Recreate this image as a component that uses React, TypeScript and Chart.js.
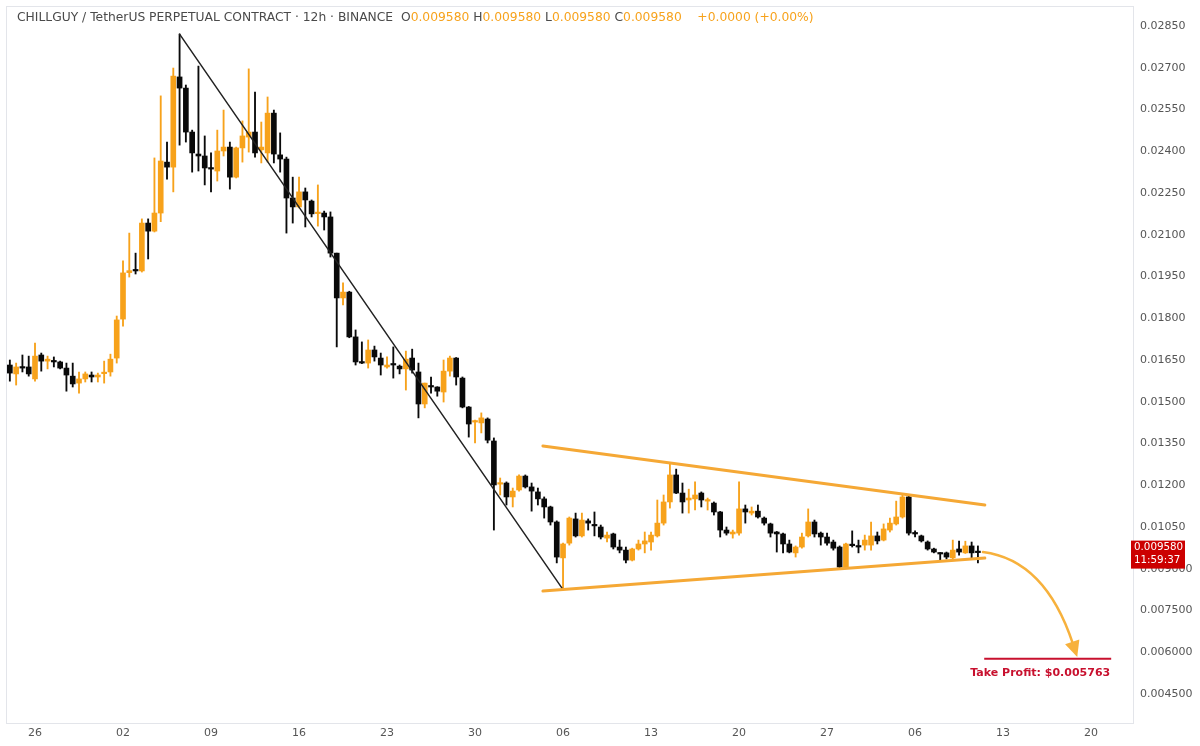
import { useEffect, useRef } from "react";
import { Chart, registerables } from "chart.js";

Chart.register(...registerables);

// 12h candles; index 0 is the candle at the "26" tick, 14 candles per week
const FIRST_CANDLE = -4;

const opens = [
  0.01632, 0.01600, 0.01625, 0.01625, 0.01582, 0.01668, 0.01646, 0.01648, 0.01643, 0.01621,
  0.01592, 0.01567, 0.01582, 0.01596, 0.01589, 0.01601, 0.01607, 0.01657, 0.01797, 0.01964,
  0.01973, 0.01970, 0.02142, 0.02113, 0.02178, 0.02361, 0.02343, 0.02667, 0.02627, 0.02469,
  0.02390, 0.02383, 0.02340, 0.02329, 0.02401, 0.02415, 0.02307, 0.02412, 0.02451, 0.02469,
  0.02405, 0.02394, 0.02537, 0.02387, 0.02372, 0.02232, 0.02200, 0.02254, 0.02221, 0.02176,
  0.02178, 0.02164, 0.02034, 0.01873, 0.01894, 0.01733, 0.01643, 0.01639, 0.01686, 0.01657,
  0.01625, 0.01636, 0.01628, 0.01618, 0.01657, 0.01607, 0.01492, 0.01554, 0.01553, 0.01535,
  0.01610, 0.01657, 0.01585, 0.01481, 0.01427, 0.01424, 0.01438, 0.01359, 0.01204, 0.01208,
  0.01158, 0.01183, 0.01233, 0.01194, 0.01176, 0.01151, 0.01122, 0.01068, 0.00939, 0.00992,
  0.01079, 0.01018, 0.01072, 0.01057, 0.01050, 0.01010, 0.01025, 0.00978, 0.00967, 0.00931,
  0.00971, 0.00989, 0.00996, 0.01018, 0.01064, 0.01140, 0.01237, 0.01172, 0.01147, 0.01151,
  0.01172, 0.01143, 0.01136, 0.01104, 0.01039, 0.01025, 0.01028, 0.01115, 0.01100, 0.01107,
  0.01082, 0.01061, 0.01032, 0.01025, 0.00989, 0.00957, 0.00978, 0.01018, 0.01068, 0.01028,
  0.01014, 0.00996, 0.00978, 0.00906, 0.00987, 0.00982, 0.00985, 0.00985, 0.01018, 0.01003,
  0.01039, 0.01061, 0.01086, 0.01158, 0.01028, 0.01018, 0.00996, 0.00971, 0.00957, 0.00957,
  0.00939, 0.00971, 0.00957, 0.00982, 0.00960,
];
const highs = [
  0.01650, 0.01639, 0.01668, 0.01664, 0.01711, 0.01675, 0.01664, 0.01661, 0.01646, 0.01639,
  0.01639, 0.01607, 0.01607, 0.01607, 0.01603, 0.01646, 0.01671, 0.01808, 0.02006, 0.02106,
  0.02034, 0.02157, 0.02157, 0.02376, 0.02599, 0.02433, 0.02699, 0.02821, 0.02638, 0.02476,
  0.02706, 0.02455, 0.02394, 0.02476, 0.02548, 0.02433, 0.02415, 0.02509, 0.02696, 0.02613,
  0.02505, 0.02595, 0.02548, 0.02466, 0.02379, 0.02307, 0.02307, 0.02268, 0.02225, 0.02279,
  0.02185, 0.02182, 0.02034, 0.01927, 0.01897, 0.01758, 0.01715, 0.01722, 0.01700, 0.01675,
  0.01661, 0.01697, 0.01632, 0.01682, 0.01689, 0.01639, 0.01567, 0.01589, 0.01554, 0.01650,
  0.01664, 0.01659, 0.01589, 0.01483, 0.01434, 0.01460, 0.01442, 0.01370, 0.01226, 0.01212,
  0.01190, 0.01237, 0.01237, 0.01208, 0.01190, 0.01158, 0.01125, 0.01072, 0.00992, 0.01086,
  0.01100, 0.01100, 0.01079, 0.01104, 0.01057, 0.01032, 0.01028, 0.01003, 0.00978, 0.00974,
  0.01003, 0.01032, 0.01032, 0.01147, 0.01165, 0.01276, 0.01258, 0.01208, 0.01186, 0.01212,
  0.01176, 0.01154, 0.01140, 0.01106, 0.01050, 0.01039, 0.01212, 0.01129, 0.01122, 0.01129,
  0.01086, 0.01064, 0.01034, 0.01028, 0.01003, 0.00982, 0.01028, 0.01115, 0.01075, 0.01032,
  0.01028, 0.01003, 0.00982, 0.00992, 0.01036, 0.01003, 0.01021, 0.01068, 0.01032, 0.01061,
  0.01082, 0.01143, 0.01165, 0.01161, 0.01036, 0.01021, 0.01000, 0.00974, 0.00958, 0.00960,
  0.01003, 0.00999, 0.00999, 0.00996, 0.00982,
];
const lows = [
  0.01574, 0.01560, 0.01607, 0.01592, 0.01574, 0.01610, 0.01618, 0.01625, 0.01618, 0.01538,
  0.01553, 0.01531, 0.01571, 0.01571, 0.01571, 0.01567, 0.01592, 0.01639, 0.01772, 0.01948,
  0.01959, 0.01966, 0.02013, 0.02110, 0.02147, 0.02300, 0.02254, 0.02422, 0.02433, 0.02325,
  0.02329, 0.02279, 0.02254, 0.02293, 0.02383, 0.02264, 0.02304, 0.02361, 0.02397, 0.02379,
  0.02358, 0.02361, 0.02358, 0.02325, 0.02106, 0.02142, 0.02196, 0.02128, 0.02164, 0.02131,
  0.02117, 0.02020, 0.01697, 0.01848, 0.01730, 0.01632, 0.01637, 0.01621, 0.01646, 0.01596,
  0.01621, 0.01585, 0.01600, 0.01542, 0.01603, 0.01442, 0.01478, 0.01531, 0.01520, 0.01499,
  0.01592, 0.01560, 0.01478, 0.01373, 0.01352, 0.01388, 0.01352, 0.01039, 0.01165, 0.01129,
  0.01122, 0.01179, 0.01190, 0.01107, 0.01129, 0.01082, 0.01057, 0.00921, 0.00827, 0.00985,
  0.01014, 0.01014, 0.01039, 0.01018, 0.01007, 0.00996, 0.00971, 0.00957, 0.00921, 0.00928,
  0.00967, 0.00957, 0.00967, 0.01014, 0.01057, 0.01118, 0.01170, 0.01100, 0.01100, 0.01111,
  0.01122, 0.01111, 0.01093, 0.01014, 0.01021, 0.01010, 0.01021, 0.01064, 0.01093, 0.01082,
  0.01057, 0.01014, 0.00960, 0.00957, 0.00957, 0.00942, 0.00974, 0.01014, 0.01014, 0.00985,
  0.00985, 0.00967, 0.00899, 0.00903, 0.00978, 0.00957, 0.00967, 0.00967, 0.00989, 0.01000,
  0.01032, 0.01057, 0.01082, 0.01021, 0.01014, 0.00996, 0.00967, 0.00957, 0.00928, 0.00935,
  0.00935, 0.00949, 0.00955, 0.00935, 0.00921,
];
const closes = [
  0.01603, 0.01625, 0.01621, 0.01600, 0.01664, 0.01646, 0.01653, 0.01643, 0.01621, 0.01596,
  0.01564, 0.01582, 0.01600, 0.01589, 0.01596, 0.01605, 0.01653, 0.01794, 0.01963, 0.01971,
  0.01970, 0.02142, 0.02113, 0.02178, 0.02365, 0.02343, 0.02670, 0.02627, 0.02469, 0.02394,
  0.02383, 0.02340, 0.02336, 0.02401, 0.02415, 0.02307, 0.02412, 0.02455, 0.02469, 0.02394,
  0.02415, 0.02537, 0.02390, 0.02372, 0.02232, 0.02200, 0.02254, 0.02225, 0.02175, 0.02180,
  0.02164, 0.02034, 0.01873, 0.01894, 0.01733, 0.01643, 0.01639, 0.01686, 0.01661, 0.01632,
  0.01632, 0.01632, 0.01618, 0.01653, 0.01614, 0.01492, 0.01567, 0.01553, 0.01538, 0.01610,
  0.01657, 0.01589, 0.01481, 0.01420, 0.01431, 0.01442, 0.01362, 0.01201, 0.01208, 0.01158,
  0.01179, 0.01233, 0.01194, 0.01179, 0.01151, 0.01122, 0.01068, 0.00942, 0.00989, 0.01082,
  0.01018, 0.01075, 0.01064, 0.01054, 0.01014, 0.01021, 0.00978, 0.00967, 0.00931, 0.00971,
  0.00989, 0.01000, 0.01021, 0.01064, 0.01140, 0.01237, 0.01172, 0.01140, 0.01154, 0.01165,
  0.01147, 0.01147, 0.01104, 0.01039, 0.01028, 0.01032, 0.01115, 0.01104, 0.01107, 0.01086,
  0.01064, 0.01028, 0.01025, 0.00989, 0.00960, 0.00978, 0.01014, 0.01068, 0.01025, 0.01014,
  0.00992, 0.00974, 0.00906, 0.00989, 0.00983, 0.00978, 0.01003, 0.01018, 0.01000, 0.01043,
  0.01064, 0.01086, 0.01158, 0.01028, 0.01025, 0.01000, 0.00971, 0.00960, 0.00953, 0.00942,
  0.00967, 0.00960, 0.00982, 0.00957, 0.00958,
];

const xTickLabels = ["26", "02", "09", "16", "23", "30", "06", "13", "20", "27", "06", "13", "20"];
const CANDLES_PER_TICK = 14;
const yTickValues = [
  0.0045, 0.006, 0.0075, 0.009, 0.0105, 0.012, 0.0135, 0.015, 0.0165, 0.018, 0.0195, 0.021,
  0.0225, 0.024, 0.0255, 0.027, 0.0285,
];

const titleText = "CHILLGUY / TetherUS PERPETUAL CONTRACT · 12h · BINANCE";
const ohlcLabels = ["O", "H", "L", "C"];
const ohlcValues = ["0.009580", "0.009580", "0.009580", "0.009580"];
const changeText = "+0.0000 (+0.00%)";
const lastPrice = 0.00958;
const countdown = "11:59:37";
const takeProfit = 0.005763;
const takeProfitLabel = "Take Profit: $0.005763";

// drawing tools, as [candle index, price]
const downTrend = [[23, 0.02821], [84, 0.00825]];
const upperLine = [[80.8, 0.01341], [151.1, 0.01129]];
const lowerLine = [[80.8, 0.0082], [151.1, 0.009386]];
const arrowPath = [[150.8, 0.0096], [160.7, 0.009314], [165.8, 0.005829]];
const takeProfitSpan = [151.0, 171.2];

const ORANGE = "#F7A21B";
const DARK = "#0a0a0a";
const LINE_ORANGE = "#F5A835";
const ARROW_ORANGE = "#F7B13C";
const RED = "#C8102E";
const FONT = "DejaVu Sans";

export default function App() {
  const ref = useRef<HTMLCanvasElement | null>(null);

  useEffect(() => {
    if (!ref.current) return;
    const idx = opens.map((_, i) => i + FIRST_CANDLE);
    const up = closes.map((c, i) => c >= opens[i]);

    const framePlugin = {
      id: "frame",
      beforeDraw(chart: any) {
        const { ctx, width, height, chartArea: a } = chart;
        ctx.save();
        ctx.fillStyle = "#ffffff";
        ctx.fillRect(0, 0, width, height);
        ctx.strokeStyle = "#e3e5ea";
        ctx.lineWidth = 1;
        ctx.strokeRect(Math.round(a.left) - 0.5, Math.round(a.top) - 0.5, Math.round(a.right - a.left) + 1, Math.round(a.bottom - a.top) + 1);
        ctx.restore();
      },
    };

    const drawingsPlugin = {
      id: "drawings",
      afterDatasetsDraw(chart: any) {
        const { ctx, scales } = chart;
        const P = (pt: number[]) => [scales.x.getPixelForValue(pt[0]), scales.y.getPixelForValue(pt[1])];
        ctx.save();
        const seg = (pts: number[][], color: string, w: number) => {
          const [a, b] = [P(pts[0]), P(pts[1])];
          ctx.beginPath();
          ctx.moveTo(a[0], a[1]);
          ctx.lineTo(b[0], b[1]);
          ctx.strokeStyle = color;
          ctx.lineWidth = w;
          ctx.lineCap = "round";
          ctx.stroke();
        };
        seg(downTrend, "#222222", 1.5);
        seg(upperLine, LINE_ORANGE, 3);
        seg(lowerLine, LINE_ORANGE, 3);

        // curved arrow
        const [s, c, e] = arrowPath.map(P);
        const dx = e[0] - c[0];
        const dy = e[1] - c[1];
        const len = Math.hypot(dx, dy);
        const ux = dx / len;
        const uy = dy / len;
        const headLen = 16;
        const headW = 7.5;
        const bx = e[0] - ux * headLen;
        const by = e[1] - uy * headLen;
        ctx.beginPath();
        ctx.moveTo(s[0], s[1]);
        ctx.quadraticCurveTo(c[0], c[1], bx + ux * 2, by + uy * 2);
        ctx.strokeStyle = ARROW_ORANGE;
        ctx.lineWidth = 2.5;
        ctx.stroke();
        ctx.beginPath();
        ctx.moveTo(e[0], e[1]);
        ctx.lineTo(bx - uy * headW, by + ux * headW);
        ctx.lineTo(bx + uy * headW, by - ux * headW);
        ctx.closePath();
        ctx.fillStyle = ARROW_ORANGE;
        ctx.fill();

        // take profit line + label
        const x1 = scales.x.getPixelForValue(takeProfitSpan[0]);
        const x2 = scales.x.getPixelForValue(takeProfitSpan[1]);
        const yt = scales.y.getPixelForValue(takeProfit);
        ctx.beginPath();
        ctx.moveTo(x1, yt);
        ctx.lineTo(x2, yt);
        ctx.strokeStyle = RED;
        ctx.lineWidth = 2;
        ctx.lineCap = "butt";
        ctx.stroke();
        ctx.fillStyle = RED;
        ctx.font = `bold 11px "${FONT}"`;
        ctx.textAlign = "right";
        ctx.textBaseline = "middle";
        ctx.fillText(takeProfitLabel, x2 - 1, yt + 14);
        ctx.restore();
      },
      afterDraw(chart: any) {
        const { ctx, scales, chartArea } = chart;
        ctx.save();
        // last price label
        const yp = scales.y.getPixelForValue(lastPrice);
        const bx = chartArea.right - 2;
        ctx.fillStyle = "#CC0000";
        ctx.fillRect(bx, yp - 12, 54, 28);
        ctx.fillStyle = "#ffffff";
        ctx.font = `10.3px "${FONT}"`;
        ctx.textAlign = "left";
        ctx.textBaseline = "middle";
        ctx.fillText(lastPrice.toFixed(6), bx + 3, yp - 5);
        ctx.fillText(countdown, bx + 3, yp + 8);

        // header
        ctx.font = `12.3px "${FONT}"`;
        ctx.textBaseline = "middle";
        let x = 17;
        const y = 18;
        const put = (t: string, color: string) => {
          ctx.fillStyle = color;
          ctx.fillText(t, x, y);
          x += ctx.measureText(t).width;
        };
        put(titleText + "  ", "#4a4a4a");
        ohlcLabels.forEach((l, i) => {
          put(l, "#4a4a4a");
          put(ohlcValues[i] + " ", ORANGE);
        });
        put("   " + changeText, ORANGE);
        ctx.restore();
      },
    };

    const noPad = (s: any) => {
      s.paddingTop = 0;
      s.paddingBottom = 0;
      s.paddingLeft = 0;
      s.paddingRight = 0;
    };

    const chart = new Chart(ref.current, {
      type: "bar",
      data: {
        datasets: [
          {
            label: "wick",
            data: idx.map((x, i) => ({ x, y: [lows[i], highs[i]] })) as any,
            backgroundColor: up.map((u) => (u ? ORANGE : DARK)),
            barThickness: 1.2,
            grouped: false,
            minBarLength: 1,
            borderWidth: 0,
          } as any,
          {
            label: "body",
            data: idx.map((x, i) => ({ x, y: [opens[i], closes[i]] })) as any,
            backgroundColor: up.map((u) => (u ? ORANGE : DARK)),
            barThickness: 5,
            grouped: false,
            minBarLength: 1.5,
            borderWidth: 0,
          } as any,
        ],
      },
      options: {
        animation: false,
        responsive: false,
        maintainAspectRatio: false,
        layout: { padding: { left: 7, top: 7, right: 0, bottom: 0 } },
        plugins: { legend: { display: false }, tooltip: { enabled: false }, title: { display: false } },
        scales: {
          x: {
            type: "linear",
            offset: false,
            min: -4.454,
            max: 174.67,
            grid: { display: false, drawTicks: false },
            border: { display: false },
            afterBuildTicks: (s: any) => {
              s.ticks = xTickLabels.map((_, i) => ({ value: i * CANDLES_PER_TICK }));
            },
            afterFit: (s: any) => {
              s.height = 23;
              noPad(s);
            },
            ticks: {
              autoSkip: false,
              maxRotation: 0,
              padding: 4,
              color: "#555555",
              font: { family: FONT, size: 11 },
              callback: (v: any) => xTickLabels[Math.round(Number(v) / CANDLES_PER_TICK)] ?? "",
            },
          },
          y: {
            type: "linear",
            position: "right",
            min: 0.003458,
            max: 0.029183,
            grid: { display: false, drawTicks: false },
            border: { display: false },
            afterBuildTicks: (s: any) => {
              s.ticks = yTickValues.map((v) => ({ value: v }));
            },
            afterFit: (s: any) => {
              s.width = 67;
              noPad(s);
            },
            ticks: {
              padding: 7,
              color: "#555555",
              font: { family: FONT, size: 11 },
              callback: (v: any) => Number(v).toPrecision(4),
            },
          },
        },
      },
      plugins: [framePlugin, drawingsPlugin],
    } as any);
    return () => chart.destroy();
  }, []);

  return (
    <div style={{ position: "absolute", left: 0, top: 0, width: 1200, height: 746, background: "#fff" }}>
      <canvas ref={ref} width={1200} height={746} style={{ display: "block", width: 1200, height: 746 }} />
    </div>
  );
}
